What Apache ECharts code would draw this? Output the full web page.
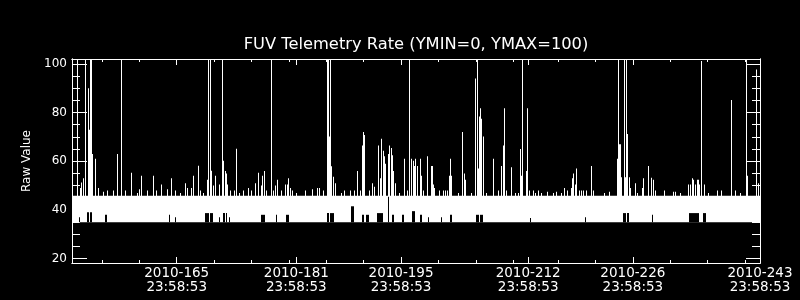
<!DOCTYPE html>
<html>
<head>
<meta charset="utf-8">
<script src="https://cdn.jsdelivr.net/npm/echarts@6/dist/echarts.min.js"></script>
<style>html,body{margin:0;padding:0;background:#000;}#c{width:800px;height:300px;}</style>
</head>
<body>
<div id="c"></div>
<script>
// X axis in day-of-year (2010)
const xRange = [151, 243];
const yRange = [18.2, 102];
const majorDays = [165, 181, 195, 212, 226, 243];
const tickLabels = ['2010-165\n23:58:53', '2010-181\n23:58:53', '2010-195\n23:58:53', '2010-212\n23:58:53', '2010-226\n23:58:53', '2010-243\n23:58:53'];
const minorDays = [155, 160, 170, 175, 180, 185, 190, 200, 205, 210, 216, 221, 231, 236, 241];
const majorY = [20, 40, 60, 80, 100];
const minorY = [25, 30, 35, 45, 50, 55, 65, 70, 75, 85, 90, 95];

// dense telemetry band: [startDay, endDay, low, high]
const band = [[151, 243, 34.9, 45.8]];

// dips of the band floor: [startDay, endDay, topValue]
const notches = [
  [151.87, 152.00, 37], [152.97, 153.27, 39], [153.41, 153.67, 39], [155.37, 155.64, 38],
  [163.93, 164.04, 38], [164.73, 164.84, 37], [168.83, 169.32, 38.7], [169.45, 169.82, 38.7],
  [170.66, 170.79, 37], [171.15, 171.46, 38.7], [171.55, 171.77, 38.7], [171.93, 172.06, 37],
  [176.32, 176.77, 38], [178.24, 178.37, 38], [179.62, 179.98, 38], [185.06, 185.33, 38.7],
  [185.54, 186.03, 38.7], [188.37, 188.73, 41.5], [189.78, 190.05, 38], [190.32, 190.68, 38],
  [191.83, 192.63, 38.7], [193.26, 193.43, 46], [193.79, 194.06, 38], [195.13, 195.40, 38],
  [196.47, 196.83, 39.5], [197.54, 197.81, 38], [198.61, 198.70, 37], [200.31, 200.39, 37],
  [201.55, 201.82, 38], [205.03, 205.43, 38], [205.56, 206.00, 38], [212.18, 212.31, 36.7],
  [219.60, 219.74, 37], [224.64, 225.08, 38.7], [225.21, 225.52, 38.7], [228.53, 228.67, 38],
  [233.47, 234.89, 38.7], [235.34, 235.78, 38.7]
];

// excursions above the band: [day, peakValue]
const spikes = [
  [151.71,110],[152.07,49],[152.24,51.3],[152.43,53],[152.70,110],[153.14,90],[153.31,72.9],[153.45,110],[153.54,110],[153.67,63],[154.12,61],[154.48,49],[155.19,47.5],[155.64,48],[156.44,48],[157.06,63],[157.59,110],[158.05,48],[158.93,55.3],[159.65,47],[160.00,48.5],[160.27,54],[160.99,48],[161.79,54],[162.23,48],[162.86,50.4],[163.66,48.5],[164.20,53],[164.81,48],[165.44,47],[166.15,51],[166.34,49],
  [166.87,49],[167.22,54],[167.85,58.1],[168.12,48],[168.56,47],[169.09,52.4],[169.19,110],[169.45,110],[169.63,56.1],[169.90,50],[170.16,54],[170.70,50.4],[171.06,110],[171.23,60.2],[171.42,56],[171.59,55],[171.77,50.4],[172.13,48],[172.66,48],[172.93,65.1],[173.29,47],[173.91,48],[174.54,49],[174.90,48],[175.43,51],[175.87,55.3],[176.24,50],[176.41,54],[176.64,56],[176.98,48],[177.65,110],[177.92,48],[178.19,50],[178.46,52.4],[178.91,48],[179.44,50.4],[179.79,50.4],[179.93,53],[180.11,49],[180.42,48],[180.96,47],
  [182.20,48],[183.10,48.5],[183.80,49],[184.07,49],[184.61,48],[185.06,110],[185.19,110],[185.33,70.2],[185.50,110],[185.64,57.9],[185.86,53.6],[186.21,51],[187.01,47],[187.33,48],[188.22,48],[188.75,48],[189.11,56],[189.47,48],[189.78,66.5],[189.96,72],[190.09,70.8],[190.68,48],[191.16,51],[191.43,49.5],[191.92,66.5],[192.15,53],[192.32,69.2],[192.55,64.3],[192.72,62],[192.86,59],[193.26,63],[193.43,66.5],[193.62,65.4],[193.79,62.5],[193.97,56],[194.16,51],[194.69,47],[195.40,61],[195.76,48],[196.11,110],[196.37,61],[196.56,60.2],[196.74,58],[196.91,61],[197.10,58],
  [197.58,61],[197.71,54],[197.90,48],[198.47,62],[198.97,58],[199.10,58],[199.28,50.4],[199.41,49],[200.04,48],[200.65,48],[200.92,48],[201.19,48],[201.46,54],[201.59,61],[201.72,54],[202.62,47],[203.20,72],[203.46,55],[203.60,52.4],[204.40,47],[204.93,94],[205.12,110],[205.33,57],[205.47,78.4],[205.60,81.8],[205.74,77.5],[205.92,70.2],[206.40,47],[207.34,61],[207.97,48],[208.41,58],[208.60,66.5],[208.77,81.8],[209.08,48],[209.75,57.5],[210.20,47],[210.64,47],[210.91,65],[211.05,54],[211.18,110],[211.71,56],[211.85,81.8],[212.16,48],[212.61,48],
  [212.96,47],[213.32,48],[213.76,47],[214.56,47.5],[215.28,47],[215.73,47.5],[216.35,47],[216.84,49],[217.24,48],[217.69,49],[217.91,53],[218.04,55],[218.23,50.4],[218.40,57],[218.76,48],[219.03,48],[219.30,48],[219.70,48],[220.45,58],[220.71,48],[222.14,47],[222.85,47.5],[223.92,61],[224.06,110],[224.15,67],[224.28,67],[224.46,53.4],[224.78,110],[224.91,53.4],[225.13,110],[225.26,71.2],[225.45,53.4],[225.62,49],[226.33,51],[226.60,47],[227.19,49],[227.40,53],[228.03,58],[228.43,53.2],[228.74,52.4],[229.01,48],[230.17,48],[231.41,47.5],[231.68,47.5],[232.31,47],
  [233.38,50.4],[233.69,50.4],[233.87,53],[234.09,52.4],[234.27,50.4],[234.54,52.4],[234.72,52.4],[234.89,50.4],[235.16,101.2],[235.48,50.4],[236.09,47],[237.22,48],[237.75,48],[239.17,85.2],[239.70,48],[240.33,47],[241.13,110],[241.31,54],[242.51,97.7],[242.74,51]
];

const WHITE = '#ffffff';
const FONT = 'DejaVu Sans';
const bandTop = band[0][3];

function snapRect(api, x0d, x1d, ylo, yhi, fill) {
  const a = api.coord([x0d, yhi]);
  const b = api.coord([x1d, ylo]);
  const x0 = Math.round(a[0]);
  const x1 = Math.max(Math.round(b[0]), x0 + 1);
  return { type: 'rect', shape: { x: x0, y: a[1], width: x1 - x0, height: b[1] - a[1] }, style: { fill: fill } };
}

const xBase = {
  type: 'value', min: xRange[0], max: xRange[1], splitLine: { show: false },
  axisLine: { show: true, onZero: false, lineStyle: { color: WHITE, width: 1 } }
};
const yBase = {
  type: 'value', min: yRange[0], max: yRange[1], splitLine: { show: false },
  axisLine: { show: true, onZero: false, lineStyle: { color: WHITE, width: 1 } }
};

const option = {
  backgroundColor: '#000000',
  animation: false,
  title: {
    text: 'FUV Telemetry Rate (YMIN=0, YMAX=100)',
    left: 416, top: 37, padding: 0, textAlign: 'center',
    textStyle: { color: WHITE, fontFamily: FONT, fontSize: 16.3, fontWeight: 'normal' }
  },
  grid: { left: 72, right: 40, top: 59, bottom: 37, containLabel: false },
  xAxis: [
    Object.assign({}, xBase, { position: 'bottom',
      axisTick: { show: true, inside: true, length: 6, customValues: majorDays, lineStyle: { color: WHITE } },
      axisLabel: { show: true, customValues: majorDays, color: WHITE, fontFamily: FONT, fontSize: 13.5, lineHeight: 14, margin: 3,
        formatter: function (v) { const i = majorDays.indexOf(v); return i >= 0 ? tickLabels[i] : ''; } } }),
    Object.assign({}, xBase, { position: 'bottom',
      axisTick: { show: true, inside: true, length: 3, customValues: minorDays, lineStyle: { color: WHITE } },
      axisLabel: { show: false } }),
    Object.assign({}, xBase, { position: 'top',
      axisTick: { show: true, inside: true, length: 6, customValues: majorDays, lineStyle: { color: WHITE } },
      axisLabel: { show: false } }),
    Object.assign({}, xBase, { position: 'top',
      axisTick: { show: true, inside: true, length: 3, customValues: minorDays, lineStyle: { color: WHITE } },
      axisLabel: { show: false } })
  ],
  yAxis: [
    Object.assign({}, yBase, { position: 'left',
      name: 'Raw Value', nameLocation: 'middle', nameGap: 38,
      nameTextStyle: { color: WHITE, fontFamily: FONT, fontSize: 12 },
      axisTick: { show: true, inside: true, length: 15, customValues: majorY, lineStyle: { color: WHITE } },
      axisLabel: { show: true, customValues: majorY, color: WHITE, fontFamily: FONT, fontSize: 12, margin: 5 } }),
    Object.assign({}, yBase, { position: 'left',
      axisTick: { show: true, inside: true, length: 8, customValues: minorY, lineStyle: { color: WHITE } },
      axisLabel: { show: false } }),
    Object.assign({}, yBase, { position: 'right',
      axisTick: { show: true, inside: true, length: 14, customValues: majorY, lineStyle: { color: WHITE } },
      axisLabel: { show: false } }),
    Object.assign({}, yBase, { position: 'right',
      axisTick: { show: true, inside: true, length: 8, customValues: minorY, lineStyle: { color: WHITE } },
      axisLabel: { show: false } })
  ],
  series: [
    {
      type: 'custom', name: 'band', xAxisIndex: 0, yAxisIndex: 0, clip: true, z: 2,
      data: band,
      renderItem: function (params, api) {
        return snapRect(api, api.value(0), api.value(1), api.value(2), api.value(3), WHITE);
      }
    },
    {
      type: 'custom', name: 'notches', xAxisIndex: 0, yAxisIndex: 0, clip: true, z: 3,
      data: notches,
      renderItem: function (params, api) {
        return snapRect(api, api.value(0), api.value(1), band[0][2], api.value(2), '#000000');
      }
    },
    {
      type: 'custom', name: 'spikes', xAxisIndex: 0, yAxisIndex: 0, clip: true, z: 4,
      data: spikes,
      renderItem: function (params, api) {
        const top = api.coord([api.value(0), api.value(1)]);
        const base = api.coord([api.value(0), bandTop]);
        const x0 = Math.round(top[0]);
        return { type: 'rect', shape: { x: x0, y: top[1], width: 1, height: base[1] - top[1] + 1 }, style: { fill: WHITE } };
      }
    }
  ]
};

const chart = echarts.init(document.getElementById('c'), null, { renderer: 'canvas' });
chart.setOption(option);
</script>
</body>
</html>
